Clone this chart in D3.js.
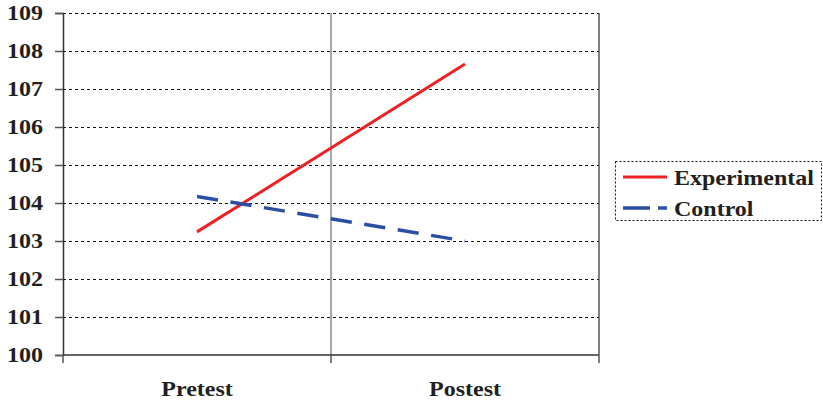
<!DOCTYPE html>
<html>
<head>
<meta charset="utf-8">
<script src="https://cdn.jsdelivr.net/npm/d3@7"></script>
<style>
  html, body { margin: 0; padding: 0; background: #fff; }
  svg { display: block; }
  text { font-family: "Liberation Serif", "Times New Roman", serif; font-weight: bold; fill: #231f20; }
</style>
</head>
<body>
<svg id="chart" width="823" height="404"></svg>
<script>
// Test phases and group means
const phases = ["Pretest", "Postest"];
const experimental = [103.24, 107.66];
const control = [104.17, 103.0];
const seriesNames = ["Experimental", "Control"];
const yTicks = [100, 101, 102, 103, 104, 105, 106, 107, 108, 109];

const W = 823, H = 404;
const plot = { left: 63, right: 599, top: 13, bottom: 355 };
const svg = d3.select("#chart");

const x = d3.scaleBand().domain(phases).range([plot.left, plot.right]);
const y = d3.scaleLinear().domain([100, 109]).range([plot.bottom, plot.top]);
const cx = d => x(d) + x.bandwidth() / 2;

// text is set in a slightly widened serif face
const sx = 1.2;
function wideText(g, tx, ty, str, anchor) {
  const t = g.append("text")
    .attr("transform", `translate(${tx},${ty}) scale(${sx},1)`)
    .attr("font-size", 20)
    .attr("text-anchor", anchor)
    .text(str);
  return t;
}

// horizontal dashed gridlines
svg.append("g").selectAll("line").data(yTicks.slice(1)).join("line")
  .attr("x1", plot.left).attr("x2", plot.right)
  .attr("y1", d => y(d)).attr("y2", d => y(d))
  .attr("stroke", "#111").attr("stroke-width", 1)
  .attr("stroke-dasharray", "3,3")
  .attr("shape-rendering", "crispEdges");

// right frame and category separator
svg.append("line")
  .attr("x1", plot.right).attr("x2", plot.right)
  .attr("y1", plot.top).attr("y2", plot.bottom)
  .attr("stroke", "#555").attr("stroke-width", 1.5);
svg.append("line")
  .attr("x1", x("Postest")).attr("x2", x("Postest"))
  .attr("y1", plot.top).attr("y2", plot.bottom)
  .attr("stroke", "#777").attr("stroke-width", 1.3);

// y axis
const yAxis = svg.append("g").attr("transform", `translate(${plot.left},0)`)
  .call(d3.axisLeft(y).tickValues(yTicks).tickSize(8).tickFormat(""));
yAxis.select(".domain").attr("stroke", "#333").attr("stroke-width", 1.5);
yAxis.selectAll(".tick line").attr("stroke", "#555").attr("stroke-width", 1.5);
const yLab = svg.append("g");
yTicks.forEach(v => wideText(yLab, 43, y(v) + 7, String(v), "end"));

// x axis with boundary ticks
svg.append("line")
  .attr("x1", plot.left).attr("x2", plot.right)
  .attr("y1", plot.bottom).attr("y2", plot.bottom)
  .attr("stroke", "#333").attr("stroke-width", 1.5);
const bounds = [x(phases[0]), x(phases[1]), x(phases[1]) + x.bandwidth()];
svg.append("g").selectAll("line").data(bounds).join("line")
  .attr("x1", d => d).attr("x2", d => d)
  .attr("y1", plot.bottom).attr("y2", plot.bottom + 8)
  .attr("stroke", "#555").attr("stroke-width", 1.5);
const xLab = svg.append("g");
phases.forEach(p => wideText(xLab, cx(p), 396, p, "middle"));

// series lines
const line = d3.line().x((d, i) => cx(phases[i])).y(d => y(d));
svg.append("path").datum(experimental)
  .attr("d", line).attr("fill", "none")
  .attr("stroke", "#ee2024").attr("stroke-width", 3);
svg.append("path").datum(control)
  .attr("d", line).attr("fill", "none")
  .attr("stroke", "#2c4fa6").attr("stroke-width", 3.5)
  .attr("stroke-dasharray", "21.3,12.6");

// legend
const lg = svg.append("g");
lg.append("rect")
  .attr("x", 615.5).attr("y", 161.5).attr("width", 206).attr("height", 59)
  .attr("fill", "none").attr("stroke", "#111").attr("stroke-width", 1)
  .attr("stroke-dasharray", "2,2");
const legendColors = ["#ee2024", "#2c4fa6"];
const legendDash = [null, "27,8"];
seriesNames.forEach((name, i) => {
  const ly = 177 + i * 31;
  lg.append("line")
    .attr("x1", 623).attr("x2", 667).attr("y1", ly).attr("y2", ly)
    .attr("stroke", legendColors[i]).attr("stroke-width", i ? 3.5 : 3)
    .attr("stroke-dasharray", legendDash[i]);
  wideText(lg, 674, ly + 8, name, "start");
});
</script>
</body>
</html>
